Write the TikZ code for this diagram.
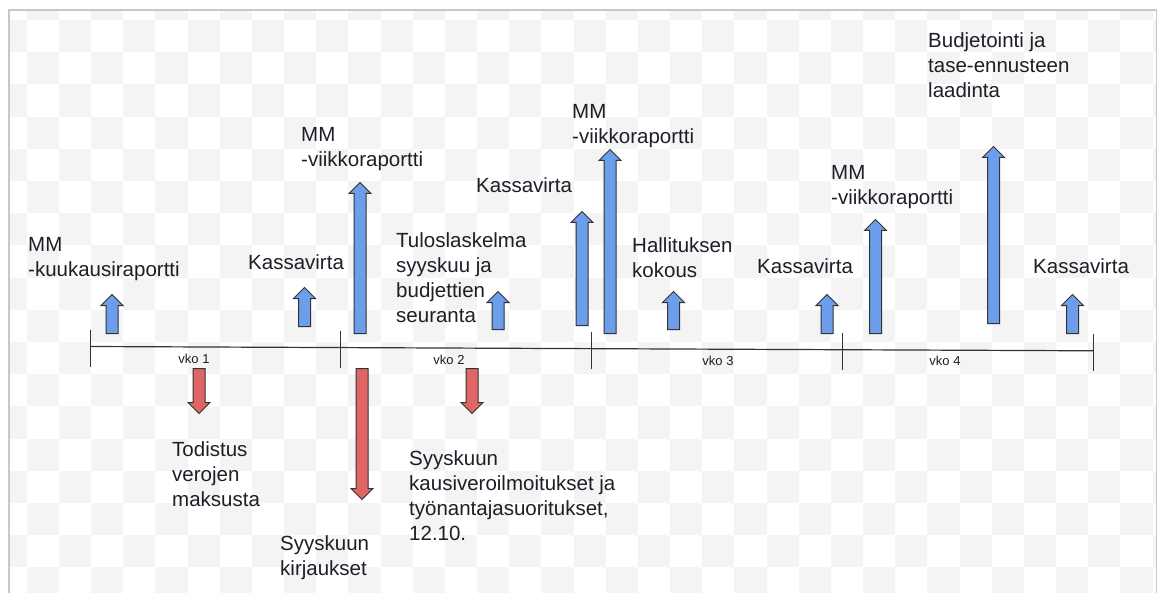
\documentclass[tikz,border=0pt]{standalone}
\usepackage{fontspec}
\setmainfont{Liberation Sans}
\usetikzlibrary{shapes.arrows}

\definecolor{upblue}{HTML}{6D9EEB}
\definecolor{downred}{HTML}{E06666}
\definecolor{checker}{HTML}{F4F4F4}
\definecolor{frame}{HTML}{C8C8C8}
\definecolor{ink}{HTML}{1E1E28}

\begin{document}
\begin{tikzpicture}[
  x=1pt, y=-1pt,
  blockarrow/.style={single arrow, draw=black!80, line width=1pt, anchor=tail,
    inner xsep=0pt, inner ysep=5.5pt, minimum width=0pt,
    single arrow head extend=5pt, single arrow tip angle=90},
  uparrow/.style={blockarrow, fill=upblue, rotate=90},
  downarrow/.style={blockarrow, fill=downred, rotate=-90},
  lbl/.style={anchor=north west, inner sep=0pt, align=left, text=ink,
    font=\fontsize{20.5}{25}\selectfont},
  wk/.style={inner sep=0pt, text=ink, font=\fontsize{13}{15}\selectfont}
]
  \useasboundingbox (0,0) rectangle (1158,593);

  % background
  \begin{scope}
    \clip (9.5,10.5) rectangle (1156,593);
    \foreach \i in {-1,...,35}
      \foreach \j in {-1,...,18} {
        \pgfmathtruncatemacro{\odd}{mod(\i+\j+100,2)}
        \ifnum\odd=1
          \fill[checker] (26.7+32.17*\i,20+32.2*\j) rectangle ++(32.17,32.2);
        \fi
      }
  \end{scope}
  \draw[frame, line width=1.2pt] (9,593) -- (9,10) -- (1156.5,10) -- (1156.5,593);

  % timeline
  \coordinate (t0) at (90,346.5);
  \coordinate (t1) at (340.5,347.6);
  \coordinate (t2) at (591.5,348.7);
  \coordinate (t3) at (842.5,349.8);
  \coordinate (t4) at (1093,350.8);
  \draw[black!80, line width=1.2pt] (t0) -- (t4);
  \foreach \t in {t0,t1,t2,t3,t4}
    \draw[black!80, line width=1pt] (\t) ++(0,-17) -- ++(0,37);

  % week labels
  \node[wk] (w1) at (194,359) {vko 1};
  \node[wk] (w2) at (449,360) {vko 2};
  \node[wk] (w3) at (718,361) {vko 3};
  \node[wk] (w4) at (945,361) {vko 4};

  % up arrows
  \node[uparrow, minimum height=39pt] (up1) at (112,334) {};
  \node[uparrow, minimum height=39pt] (up2) at (304.5,327) {};
  \node[uparrow, minimum height=151pt] (up3) at (360,334) {};
  \node[uparrow, minimum height=38pt] (up4) at (498,330) {};
  \node[uparrow, minimum height=114pt] (up5) at (582,326) {};
  \node[uparrow, minimum height=184pt] (up6) at (610,334) {};
  \node[uparrow, minimum height=38pt] (up7) at (673.5,330) {};
  \node[uparrow, minimum height=39pt] (up8) at (827,334) {};
  \node[uparrow, minimum height=114pt] (up9) at (875.5,334) {};
  \node[uparrow, minimum height=177pt] (up10) at (993.5,324) {};
  \node[uparrow, minimum height=39pt] (up11) at (1072.5,334) {};

  % down arrows
  \node[downarrow, minimum height=45pt] (dn1) at (199,368) {};
  \node[downarrow, minimum height=131pt] (dn2) at (362,368) {};
  \node[downarrow, minimum height=45pt] (dn3) at (472,368) {};

  % labels above
  \node[lbl] (l1) at (28,237) {MM\\-kuukausiraportti};
  \node[lbl] (l2) at (248,254) {Kassavirta};
  \node[lbl] (l3) at (301,127) {MM\\-viikkoraportti};
  \node[lbl] (l4) at (396,232) {Tuloslaskelma\\syyskuu ja\\budjettien\\seuranta};
  \node[lbl] (l5) at (476,177) {Kassavirta};
  \node[lbl] (l6) at (572,104) {MM\\-viikkoraportti};
  \node[lbl] (l7) at (632,237) {Hallituksen\\kokous};
  \node[lbl] (l8) at (757,258) {Kassavirta};
  \node[lbl] (l9) at (831,165) {MM\\-viikkoraportti};
  \node[lbl] (l10) at (928,32) {Budjetointi ja\\tase-ennusteen\\laadinta};
  \node[lbl] (l11) at (1033,258) {Kassavirta};

  % labels below
  \node[lbl] (l12) at (172,441) {Todistus\\verojen\\maksusta};
  \node[lbl] (l13) at (280,535) {Syyskuun\\kirjaukset};
  \node[lbl] (l14) at (409,450) {Syyskuun\\kausiveroilmoitukset ja\\työnantajasuoritukset,\\12.10.};

\end{tikzpicture}
\end{document}
